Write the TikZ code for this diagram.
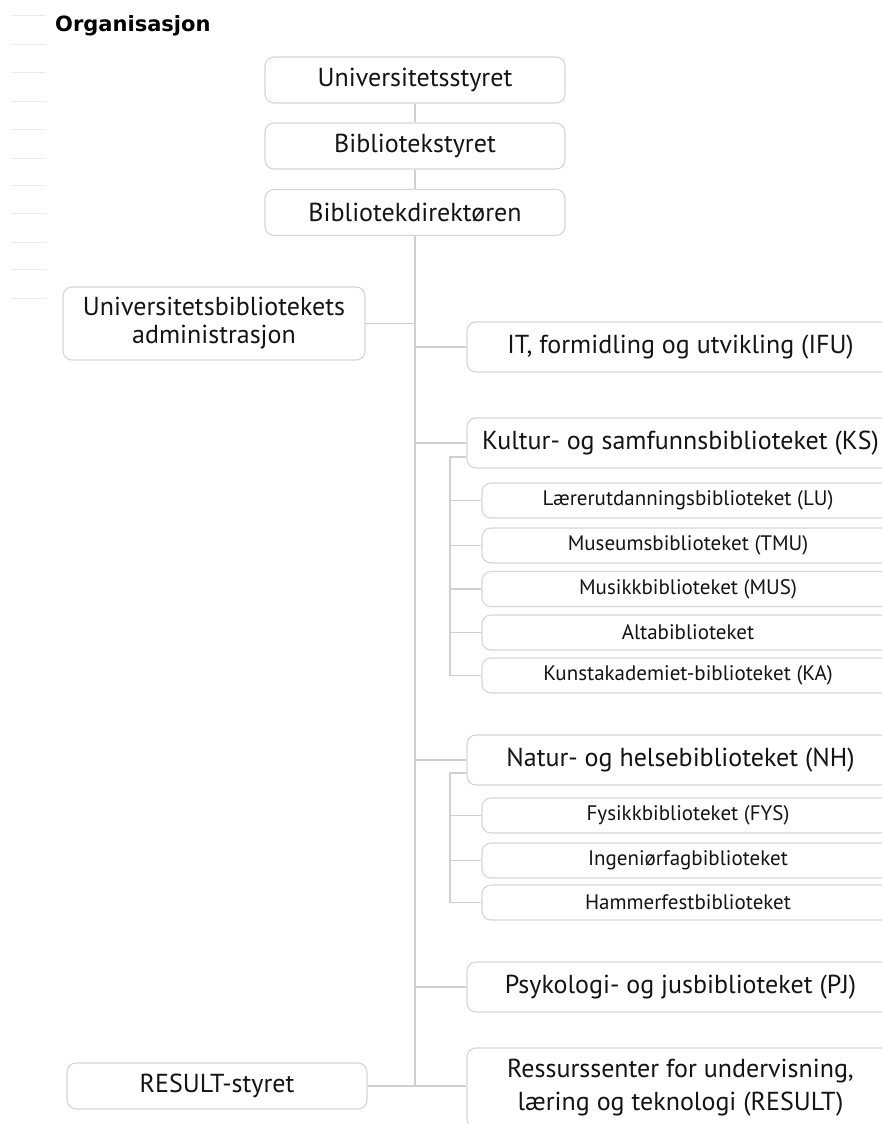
\documentclass[tikz,border=0pt]{standalone}
\usepackage{fontspec}
\setmainfont{PT Sans}
\newfontfamily\titlefont{DejaVu Sans}
\definecolor{boxgray}{HTML}{D6D6D6}
\definecolor{linegray}{HTML}{D0D0D0}
\definecolor{faint}{HTML}{EBEBEB}
\definecolor{txt}{HTML}{141414}
\begin{document}
\begin{tikzpicture}[x=1pt,y=-1pt,
  box/.style={draw=boxgray, line width=1.1pt, rounded corners=9pt, fill=white, text=txt, inner sep=0pt, align=center},
  bigbox/.style={box, minimum height=50pt, font=\fontsize{26}{30}\selectfont},
  topbox/.style={box, minimum width=300pt, minimum height=46pt, font=\fontsize{26}{28}\selectfont},
  subbox/.style={box, minimum width=412pt, minimum height=35pt, font=\fontsize{21}{24}\selectfont},
  conn/.style={draw=linegray, line width=1.1pt}]
\useasboundingbox (0,0) rectangle (882,1124);
\clip (0,0) rectangle (882,1124);
\fill[white] (0,0) rectangle (882,1124);
% faint margin marks
\foreach \yy in {16,45,73,101,129,158,185,213,242,269,298}
  \draw[faint, line width=1pt] (12,\yy) -- (46,\yy);
% title
\node[anchor=base west, inner sep=0pt, text=black, font=\titlefont\bfseries\fontsize{21}{24}\selectfont] (title) at (55,32) {Organisasjon};
% top chain
\node[topbox] (us) at (415,80) {Universitetsstyret};
\node[topbox] (bs) at (415,146) {Bibliotekstyret};
\node[topbox] (bd) at (415,212.5) {Bibliotekdirektøren};
% left side
\node[box, minimum width=302pt, minimum height=73pt, font=\fontsize{26}{28}\selectfont] (adm) at (214,323.5) {Universitetsbibliotekets\\administrasjon};
\node[topbox] (rs) at (217,1086) {RESULT-styret};
% right side
\node[bigbox, minimum width=427pt] (ifu) at (680.5,347) {IT, formidling og utvikling (IFU)};
\node[bigbox, minimum width=427pt] (ks) at (680.5,443) {Kultur- og samfunnsbiblioteket (KS)};
\node[subbox] (lu) at (688,500.5) {Lærerutdanningsbiblioteket (LU)};
\node[subbox] (tmu) at (688,545.5) {Museumsbiblioteket (TMU)};
\node[subbox] (mus) at (688,589) {Musikkbiblioteket (MUS)};
\node[subbox] (alta) at (688,632.5) {Altabiblioteket};
\node[subbox] (ka) at (688,675.5) {Kunstakademiet-biblioteket (KA)};
\node[bigbox, minimum width=427pt] (nh) at (680.5,760) {Natur- og helsebiblioteket (NH)};
\node[subbox] (fys) at (688,815.5) {Fysikkbiblioteket (FYS)};
\node[subbox] (ing) at (688,860.5) {Ingeniørfagbiblioteket};
\node[subbox] (ham) at (688,902.5) {Hammerfestbiblioteket};
\node[bigbox, minimum width=427pt] (pj) at (680.5,987) {Psykologi- og jusbiblioteket (PJ)};
\node[bigbox, minimum width=427pt, minimum height=80pt, font=\fontsize{26}{33}\selectfont] (res) at (680.5,1088) {Ressurssenter for undervisning,\\læring og teknologi (RESULT)};
% connectors
\coordinate (trunkend) at (415,1086);
\coordinate (ksj) at (450,457);
\coordinate (nhj) at (450,773);
\draw[conn] (us) -- (bs);
\draw[conn] (bs) -- (bd);
\draw[conn] (bd.south) -- (trunkend);
\draw[conn] (adm.east) -- (adm.east -| bd.south);
\draw[conn] (ifu.west -| bd.south) -- (ifu.west);
\draw[conn] (ks.west -| bd.south) -- (ks.west);
\draw[conn] (nh.west -| bd.south) -- (nh.west);
\draw[conn] (pj.west -| bd.south) -- (pj.west);
\draw[conn] (rs.east) -- (res.west |- rs.east);
\draw[conn] (ks.west |- ksj) -- (ksj) |- (ka.west);
\foreach \n in {lu,tmu,mus,alta}
  \draw[conn] (\n.west -| ksj) -- (\n.west);
\draw[conn] (nh.west |- nhj) -- (nhj) |- (ham.west);
\foreach \n in {fys,ing}
  \draw[conn] (\n.west -| nhj) -- (\n.west);
\end{tikzpicture}
\end{document}
